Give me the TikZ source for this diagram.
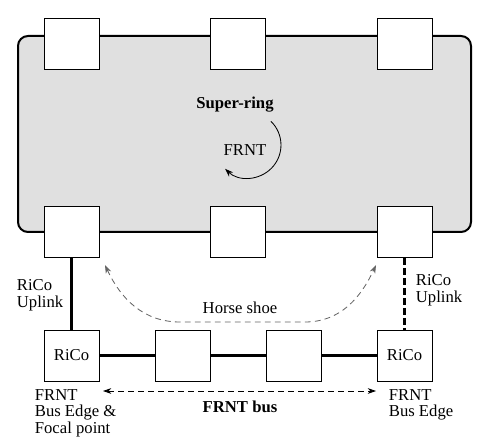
\documentclass[tikz,border=0pt]{standalone}
\usepackage{fontspec}
\setmainfont{Liberation Serif}
\usetikzlibrary{arrows.meta,positioning,calc}
\definecolor{ringgray}{RGB}{224,224,224}
\definecolor{hintgray}{RGB}{100,100,100}

\begin{document}
\begin{tikzpicture}[x=0.6pt,y=0.6pt,font=\fontsize{10}{10}\selectfont,
  unit/.style={draw,fill=white,line width=0.6pt,minimum width=33pt,minimum height=30.6pt,inner sep=0pt},
  link/.style={line width=1.8pt},
  uplink/.style={link,dash pattern=on 4pt off 2pt},
  hint/.style={dash pattern=on 3.5pt off 2.5pt,line width=0.5pt,{Stealth[length=5pt,width=3.5pt]}-{Stealth[length=5pt,width=3.5pt]}},
  lbl/.style={align=left,anchor=west}]
\useasboundingbox (0,0) rectangle (491,447);

% The super-ring with its six nodes.
\draw[fill=ringgray,line width=1.2pt,rounded corners=6pt] (18,215) rectangle (471,411);
\foreach \n/\x in {t1/71.5,t2/238,t3/404.5}
  \node[unit] (\n) at (\x,402.5) {};
\foreach \n/\x in {b1/71.5,b2/238,b3/404.5}
  \node[unit] (\n) at (\x,215) {};
\node[font=\bfseries\fontsize{10}{10}\selectfont] (sring) at (235,342) {Super-ring};
\node (frnt) at (245,297) {FRNT};
\draw[line width=0.5pt,-{Stealth[length=5pt,width=3.5pt]}] (270.9,325.7)
  arc[start angle=46,end angle=-134,radius=33];

% The FRNT bus below, tied to the ring by two uplinks.
\node[unit] (rico1) at (71.5,91.5) {RiCo};
\node[unit] (n1) at (182.5,91.5) {};
\node[unit] (n2) at (293.5,91.5) {};
\node[unit] (rico2) at (404.5,91.5) {RiCo};
\foreach \from/\to in {rico1/n1,n1/n2,n2/rico2}
  \draw[link] (\from.east)--(\to.west);
\draw[link] (b1.south)--(rico1.north);
\draw[uplink] (b3.south)--(rico2.north);
\node[lbl] (upl) at (11,152) {RiCo\\Uplink};
\node[lbl] (upr) at (410,157) {RiCo\\Uplink};

% Horse shoe path between the two uplinked ring nodes.
\coordinate (hsL) at (105,182);
\coordinate (hsR) at (376,182);
\draw[hint,draw=hintgray] (hsL) to[out=-65,in=180] (180,125) -- (305,125)
  to[out=0,in=-115] (hsR);
\node (hs) at (240,139) {Horse shoe};

% Extent of the bus.
\coordinate (busL) at (103,56);
\coordinate (busR) at (376,56);
\draw[hint] (busL)--(busR);
\node[font=\bfseries\fontsize{10}{10}\selectfont] (bus) at (240,40) {FRNT bus};
\node[lbl] (edgel) at (29,34) {FRNT\\Bus Edge \&\\Focal point};
\node[lbl] (edger) at (383,42) {FRNT\\Bus Edge};
\end{tikzpicture}
\end{document}
